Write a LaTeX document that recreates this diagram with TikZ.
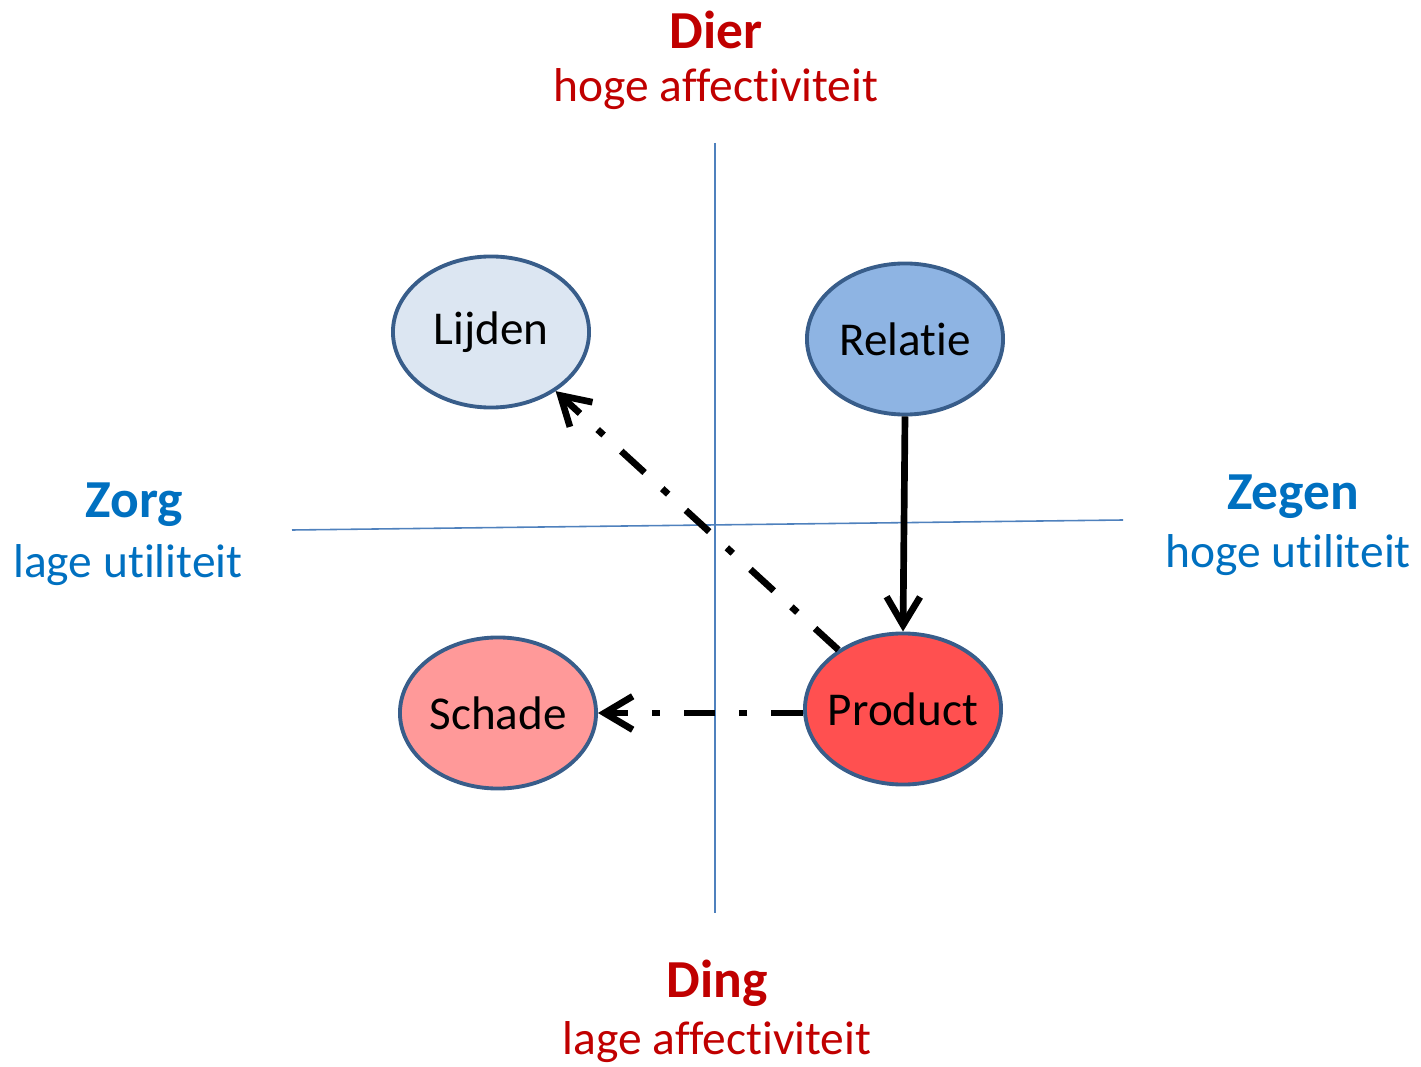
\documentclass[tikz,border=0pt]{standalone}
\usepackage{fontspec}
\setmainfont{Carlito}[Ligatures=NoCommon]
\usetikzlibrary{shapes.geometric,arrows.meta}
\definecolor{axisblue}{HTML}{4F81BD}
\definecolor{edgeblue}{HTML}{385D8A}
\definecolor{txtred}{HTML}{C00000}
\definecolor{txtblue}{HTML}{0070C0}
\definecolor{lijfill}{HTML}{DCE6F2}
\definecolor{relfill}{HTML}{8EB4E3}
\definecolor{schfill}{HTML}{FF9999}
\definecolor{profill}{HTML}{FF5050}
\tikzset{
  bub/.style={ellipse, draw=edgeblue, line width=1.1pt, minimum width=1.96cm, minimum height=1.51cm, inner sep=0pt, font=\fontsize{13.4}{15}\selectfont},
  axisline/.style={draw=axisblue, line width=0.45pt},
  conn/.style={line width=1.9pt, -{Straight Barb[length=8pt,width=9.5pt,line width=1.9pt]}},
  dashdotconn/.style={conn, dash pattern=on 9pt off 6.8pt on 2.3pt off 6.8pt},
  titlered/.style={text=txtred, font=\fontsize{15.2}{18}\selectfont\bfseries},
  subred/.style={text=txtred, font=\fontsize{13.5}{16}\selectfont},
  titleblue/.style={text=txtblue, font=\fontsize{15.2}{18}\selectfont\bfseries},
  subblue/.style={text=txtblue, font=\fontsize{13.5}{16}\selectfont},
}
\begin{document}
\begin{tikzpicture}[x=0.01cm,y=-0.01cm]
\useasboundingbox (0,0) rectangle (1421,1067);
% axes
\coordinate (vtop) at (715,143);
\coordinate (vbot) at (715,913);
\coordinate (hl) at (292,530);
\coordinate (hr) at (1123,520);
\draw[axisline] (vtop) -- (vbot);
\draw[axisline] (hl) -- (hr);
% labels
\node[titlered] (dier) at (716,30) {Dier};
\node[subred] (hogeaff) at (716,89) {hoge affectiviteit};
\node[titlered] (ding) at (717,983) {Ding};
\node[subred] (lageaff) at (717,1042) {lage affectiviteit};
\node[titleblue] (zorg) at (134,505) {Zorg};
\node[subblue] (lageut) at (128,565) {lage utiliteit};
\node[titleblue] (zegen) at (1293,497) {Zegen};
\node[subblue] (hogeut) at (1288,555) {hoge utiliteit};
% bubbles
\node[bub, fill=lijfill] (lij) at (491,332) {\makebox[0pt]{Lijden}};
\node[bub, fill=relfill] (rel) at (905,339) {\makebox[0pt]{Relatie}};
\node[bub, fill=schfill] (sch) at (498,713) {\makebox[0pt]{Schade}};
\node[bub, fill=profill] (pro) at (903,709) {\makebox[0pt]{Product}};
% connectors
\draw[conn] (rel.south) -- (pro.north);
\draw[dashdotconn] (pro) -- (lij);
\draw[dashdotconn] (pro.west |- sch.east) -- (sch.east);
\end{tikzpicture}
\end{document}
